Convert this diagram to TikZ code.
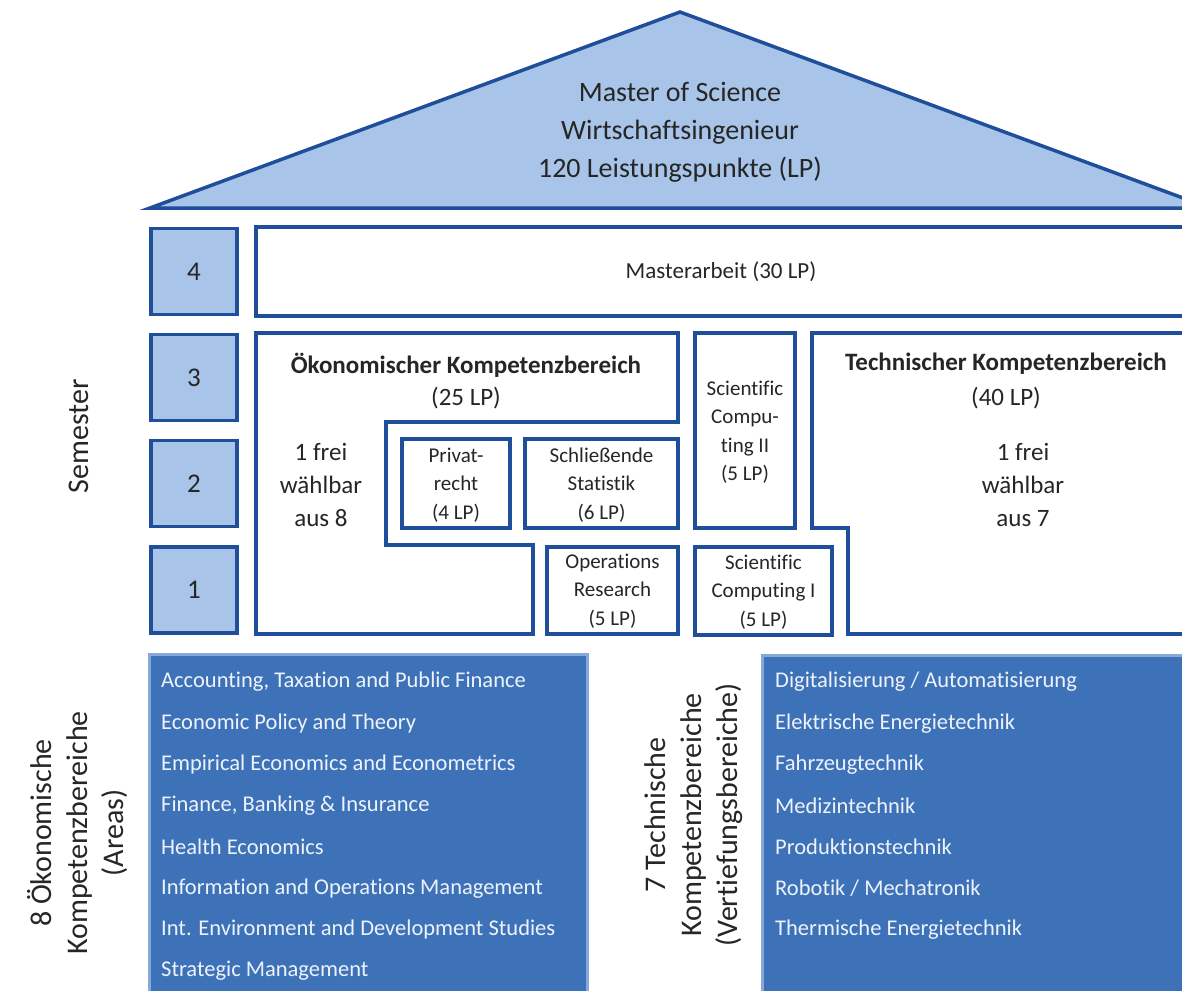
\documentclass[tikz,border=0pt]{standalone}
\usepackage{fontspec}
\setmainfont{Carlito}[Ligatures=NoCommon]
\definecolor{dblue}{HTML}{1F4E9A}
\definecolor{lblue}{HTML}{A8C4E8}
\definecolor{pblue}{HTML}{3E72B8}
\definecolor{pedge}{HTML}{86A8DA}
\definecolor{ptext}{HTML}{EEF3FB}
\definecolor{ink}{HTML}{262626}
\tikzset{
  frame/.style={draw=dblue, line width=3.5pt, line join=miter},
  sembox/.style={frame, fill=lblue, minimum width=86pt, minimum height=86pt, inner sep=0pt,
     text=ink, font=\fontsize{27}{30}\selectfont},
  modbox/.style={frame, fill=white, inner sep=0pt},
  txt/.style={align=center, inner sep=0pt, text=ink},
  big/.style={txt, font=\fontsize{25}{33}\selectfont},
  small/.style={txt, font=\fontsize{21}{28.5}\selectfont},
  side/.style={txt, rotate=90, font=\fontsize{30}{36}\selectfont},
  panel/.style={draw=pedge, line width=3pt, fill=pblue},
  item/.style={anchor=west, inner sep=0pt, text=ptext, font=\fontsize{22.5}{26}\selectfont},
}
\begin{document}
\begin{tikzpicture}[x=1pt,y=-1pt]
\useasboundingbox (0,0) rectangle (1182,990);
\clip (0,0) rectangle (1182,990);
\fill[white] (0,0) rectangle (1182,990);
% roof
\draw[frame, fill=lblue] (150,208) -- (680,12) -- (1210,208) -- cycle;
\node[txt, font=\fontsize{28}{38}\selectfont] (roof) at (680,132) {Master of Science\\Wirtschaftsingenieur\\120 Leistungspunkte (LP)};
% semester boxes
\node[sembox] (s4) at (194,271.5) {4};
\node[sembox] (s3) at (194,377.5) {3};
\node[sembox] (s2) at (194,483.5) {2};
\node[sembox] (s1) at (194,590) {1};
\node[side] (semlabel) at (79,436) {Semester};
% Masterarbeit
\node[modbox, minimum width=974pt, minimum height=89pt] (master) at (743,271.5) {};
\node[txt, font=\fontsize{23}{28}\selectfont] (mastertxt) at (721,271.5) {Masterarbeit (30 LP)};
% Oekonomischer Kompetenzbereich
\draw[frame] (256,333) -- (678,333) -- (678,422) -- (386,422) -- (386,545) -- (533,545) -- (533,634) -- (256,634) -- cycle;
\node[big] (oektitle) at (466,365) {\textbf{Ökonomischer Kompetenzbereich}};
\node[big] (oeklp) at (466,398) {(25 LP)};
\node[big] (oekfrei) at (321,485) {1 frei\\wählbar\\aus 8};
% modules
\node[modbox, minimum width=108pt, minimum height=89pt] (priv) at (456,483.5) {};
\node[small] (privtxt) at (456,485) {Privat-\\recht\\(4 LP)};
\node[modbox, minimum width=153pt, minimum height=89pt] (stat) at (601.5,483.5) {};
\node[small] (stattxt) at (601.5,485) {Schließende\\Statistik\\(6 LP)};
\node[modbox, minimum width=131pt, minimum height=87pt] (or) at (612.5,590.5) {};
\node[small] (ortxt) at (612.5,591) {Operations\\Research\\(5 LP)};
\node[modbox, minimum width=100pt, minimum height=195pt] (sc2) at (745,430.5) {};
\node[small] (sc2txt) at (745,432) {Scientific\\Compu-\\ting II\\(5 LP)};
\node[modbox, minimum width=137pt, minimum height=88pt] (sc1) at (763.5,591) {};
\node[small] (sc1txt) at (763.5,592) {Scientific\\Computing I\\(5 LP)};
% Technischer Kompetenzbereich
\draw[frame] (812,333) -- (1230,333) -- (1230,634) -- (848,634) -- (848,528) -- (812,528) -- cycle;
\node[big] (techtitle) at (1006,364) {\textbf{Technischer Kompetenzbereich}};
\node[big] (techlp) at (1006,398) {(40 LP)};
\node[big] (techfrei) at (1023,485) {1 frei\\wählbar\\aus 7};
% bottom panels
\draw[panel] (149,654) rectangle (587,1010);
\draw[panel] (762,655) rectangle (1200,1010);
\node[side] (ecolabel) at (78,833) {8 Ökonomische\\Kompetenzbereiche\\(Areas)};
\node[side] (techlabel) at (694,815) {7 Technische\\Kompetenzbereiche\\(Vertiefungsbereiche)};
\foreach \t [count=\i] in {{Accounting, Taxation and Public Finance},{Economic Policy and Theory},{Empirical Economics and Econometrics},{Finance, Banking \& Insurance},{Health Economics},{Information and Operations Management},{Int. Environment and Development Studies},{Strategic Management}}
  \node[item] (eco\i) at (161,{682+41.3*(\i-1)}) {\t};
\foreach \t [count=\i] in {{Digitalisierung / Automatisierung},{Elektrische Energietechnik},{Fahrzeugtechnik},{Medizintechnik},{Produktionstechnik},{Robotik / Mechatronik},{Thermische Energietechnik}}
  \node[item] (tec\i) at (775,{682+41.3*(\i-1)}) {\t};
\end{tikzpicture}
\end{document}
